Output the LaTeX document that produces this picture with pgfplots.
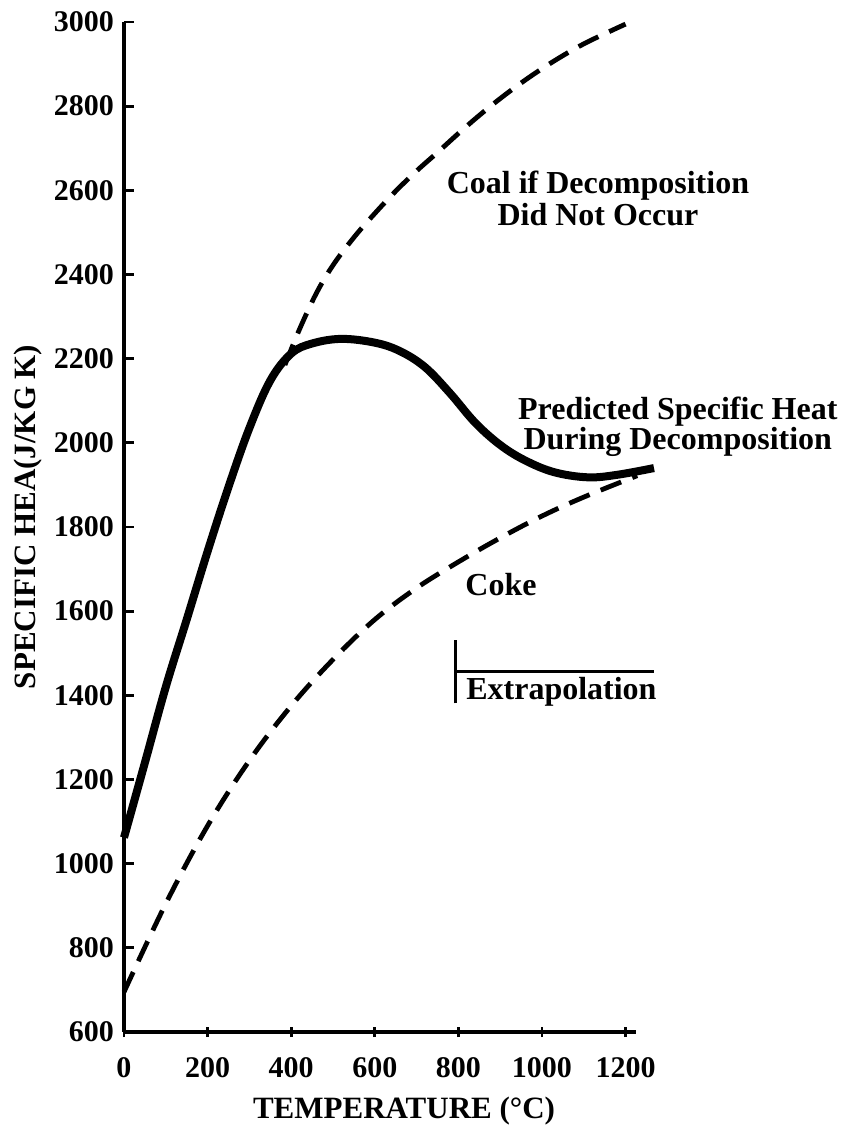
\documentclass[border=0pt]{standalone}
\usepackage{fontspec}
\setmainfont{Liberation Serif}
\usepackage{pgfplots}
\pgfplotsset{compat=1.18}
\begin{document}
\begin{tikzpicture}
\useasboundingbox (-62pt,-48pt) rectangle (361pt,516pt);
\begin{axis}[
  scale only axis, width=256pt, height=505pt,
  xmin=0, xmax=1225, ymin=600, ymax=3000,
  axis lines=left, axis line style={-, line width=1.6pt},
  xtick={0,200,...,1200}, ytick={600,800,...,3000},
  /pgf/number format/assume math mode=true,
  /pgf/number format/1000 sep={},
  tick label style={font=\fontsize{15}{18}\selectfont\bfseries},
  tick align=inside, major tick length=5pt,
  tick style={line width=1.4pt, black},
  x tick style={yshift=-2.5pt},
  xticklabel style={yshift=-9pt},
  yticklabel style={xshift=-1.5pt},
  clip=false,
]
% Predicted specific heat during decomposition
\addplot[black, line width=4pt, smooth, tension=0.6] coordinates {
(0,1062) (50,1240) (100,1420) (150,1580) (200,1742) (250,1895) (300,2035)
(350,2148) (400,2212) (450,2236) (520,2247) (600,2238) (660,2218) (720,2180)
(780,2118) (840,2048) (900,1995) (960,1958) (1030,1930)
(1110,1918) (1180,1924) (1268,1940)
};
% Coal if decomposition did not occur
\addplot[black, line width=2.4pt, dash pattern=on 11pt off 6pt, smooth, tension=0.6] coordinates {
(385,2185) (420,2270) (460,2355) (500,2422) (550,2488) (600,2545) (650,2598)
(700,2646) (750,2690) (800,2735) (850,2778) (900,2818) (950,2855) (1000,2889)
(1050,2920) (1100,2948) (1150,2972) (1200,2995)
};
% Coke
\addplot[black, line width=2.4pt, dash pattern=on 11pt off 6pt, smooth, tension=0.6] coordinates {
(0,695) (100,905) (200,1090) (300,1245) (400,1375) (500,1485) (600,1580)
(700,1655) (800,1717) (900,1774) (1000,1826) (1100,1871) (1228,1922)
};
\addplot[black, line width=1.5pt] coordinates {(792,1381) (792,1531)};
\addplot[black, line width=1.5pt] coordinates {(797,1457) (1268,1457)};
\node[align=center, font=\fontsize{16}{16}\selectfont\bfseries] at (axis cs:1134,2581) {Coal if Decomposition\\Did Not Occur};
\node[align=center, font=\fontsize{16}{15}\selectfont\bfseries] at (axis cs:1325,2038) {Predicted Specific Heat\\During Decomposition};
\node[anchor=base west, inner sep=0pt, font=\fontsize{16}{16}\selectfont\bfseries] at (axis cs:816,1638) {Coke};
\node[anchor=base west, inner sep=0pt, font=\fontsize{16}{16}\selectfont\bfseries] at (axis cs:818,1390) {Extrapolation};
\node[anchor=base, inner sep=0pt, font=\fontsize{15.5}{16}\selectfont\bfseries] at (axis cs:670,395) {TEMPERATURE (°C)};
\node[rotate=90, anchor=center, inner sep=0pt, font=\fontsize{15.5}{16}\selectfont\bfseries] at (axis cs:-230,1824) {SPECIFIC HEA(J/KG K)};
\end{axis}
\end{tikzpicture}
\end{document}
